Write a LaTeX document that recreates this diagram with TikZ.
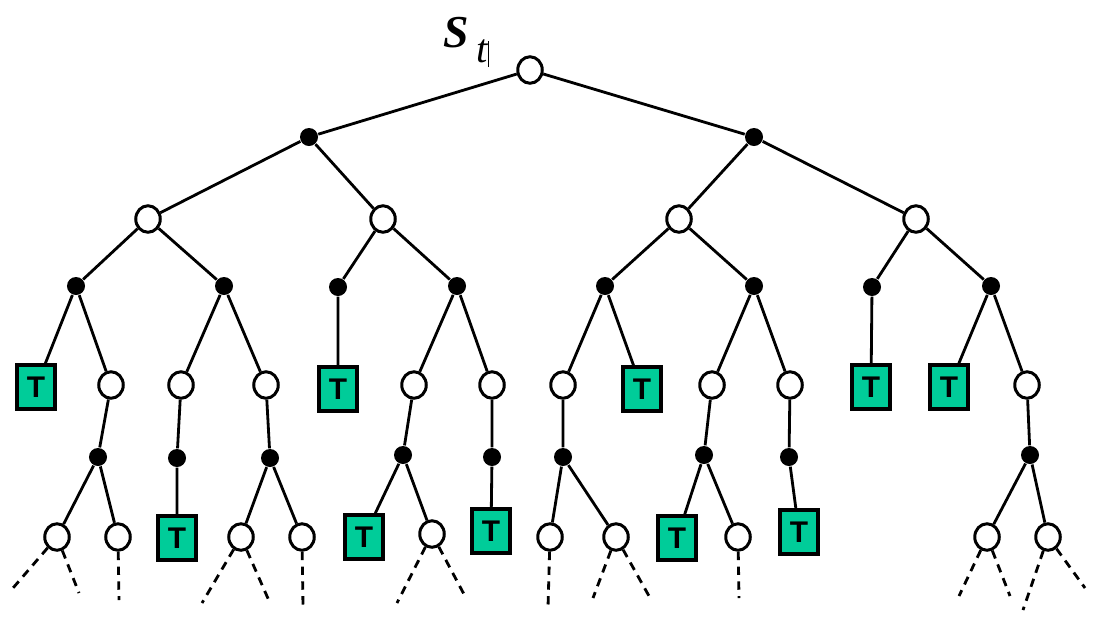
\documentclass[tikz,border=0pt]{standalone}
\usepackage{fontspec}
\setmainfont{Liberation Serif}
\setsansfont{Liberation Sans}
\usetikzlibrary{shapes.geometric}
\definecolor{termgreen}{RGB}{0,204,153}

\begin{document}
\begin{tikzpicture}[
    x=0.01cm, y=-0.01cm,
    edge/.style={line width=0.8pt},
    cont/.style={line width=0.8pt, dash pattern=on 2.4pt off 1.8pt},
    state/.style={draw, ellipse, line width=0.85pt, fill=white, minimum width=0.245cm, minimum height=0.265cm, inner sep=0pt},
    chance/.style={circle, fill=black, minimum size=0.18cm, inner sep=0pt},
    term/.style={draw, rectangle, line width=1pt, fill=termgreen, minimum width=0.38cm, minimum height=0.44cm, inner sep=0pt, font=\sffamily\bfseries\fontsize{8.5}{8.5}\selectfont}
]
    \useasboundingbox (0,0) rectangle (1104,627);

    % Root and label
    \node[state] (s) at (530,70) {};
    \node[anchor=base west, inner sep=0pt] (st) at (443,47) {\fontsize{13}{13}\selectfont\bfseries\itshape S\,\raisebox{-4.3pt}{\mdseries\fontsize{11.5}{11.5}\selectfont t}\rule[-5.7pt]{0.25pt}{7.4pt}};

    % Level 1 and 2
    \node[chance] (a) at (309,137) {};
    \node[chance] (b) at (754,137) {};
    \node[state] (a1) at (148,219) {};
    \node[state] (a2) at (383,219) {};
    \node[state] (b1) at (679,219) {};
    \node[state] (b2) at (916,219) {};

    % Level 3
    \node[chance] (a1x) at (76,286) {};
    \node[chance] (a1y) at (224,286) {};
    \node[chance] (a2x) at (338,287) {};
    \node[chance] (a2y) at (457,286) {};
    \node[chance] (b1x) at (605,286) {};
    \node[chance] (b1y) at (754,286) {};
    \node[chance] (b2x) at (872,287) {};
    \node[chance] (b2y) at (991,286) {};

    % Level 4
    \node[term] (a1xT) at (36,387) {T};
    \node[state] (a1xs) at (111,385) {};
    \node[state] (a1ys1) at (181,385) {};
    \node[state] (a1ys2) at (266,385) {};
    \node[term] (a2xT) at (338,389) {T};
    \node[state] (a2ys1) at (414,385) {};
    \node[state] (a2ys2) at (492,385) {};
    \node[state] (b1xs) at (563,385) {};
    \node[term] (b1xT) at (642,389) {T};
    \node[state] (b1ys1) at (712,385) {};
    \node[state] (b1ys2) at (790,385) {};
    \node[term] (b2xT) at (871,387) {T};
    \node[term] (b2yT) at (949,387) {T};
    \node[state] (b2ys) at (1027,385) {};

    % Level 5
    \node[chance] (d1) at (98,457) {};
    \node[chance] (d2) at (177,458) {};
    \node[chance] (d3) at (270,458) {};
    \node[chance] (d4) at (403,455) {};
    \node[chance] (d5) at (492,457) {};
    \node[chance] (d6) at (563,457) {};
    \node[chance] (d7) at (704,455) {};
    \node[chance] (d8) at (789,457) {};
    \node[chance] (d9) at (1030,455) {};

    % Level 6
    \node[state] (c1) at (57,537) {};
    \node[state] (c2) at (118,537) {};
    \node[term] (t2) at (177,538) {T};
    \node[state] (c3) at (241,537) {};
    \node[state] (c4) at (302,537) {};
    \node[term] (t4) at (364,537) {T};
    \node[state] (c5) at (432,534) {};
    \node[term] (t5) at (491,531) {T};
    \node[state] (c6) at (550,537) {};
    \node[state] (c7) at (616,537) {};
    \node[term] (t7) at (677,538) {T};
    \node[state] (c8) at (738,537) {};
    \node[term] (t8) at (799,532) {T};
    \node[state] (c9) at (987,537) {};
    \node[state] (c10) at (1048,537) {};

    % Free ends of the continuations
    \coordinate (c1l) at (13,588);
    \coordinate (c1r) at (79,593);
    \coordinate (c2e) at (119,600);
    \coordinate (c3l) at (202,603);
    \coordinate (c3r) at (270,603);
    \coordinate (c4e) at (303,607);
    \coordinate (c5l) at (397,603);
    \coordinate (c5r) at (466,598);
    \coordinate (c6e) at (548,607);
    \coordinate (c7l) at (593,598);
    \coordinate (c7r) at (649,596);
    \coordinate (c8e) at (739,598);
    \coordinate (c9l) at (959,596);
    \coordinate (c9r) at (1010,596);
    \coordinate (c10l) at (1023,610);
    \coordinate (c10r) at (1085,588);

    % Edges
    \draw[edge] (s) -- (a) (s) -- (b)
        (a) -- (a1) (a) -- (a2) (b) -- (b1) (b) -- (b2)
        (a1) -- (a1x) (a1) -- (a1y) (a2) -- (a2x) (a2) -- (a2y)
        (b1) -- (b1x) (b1) -- (b1y) (b2) -- (b2x) (b2) -- (b2y);
    \draw[edge] (a1x) -- (a1xT) (a1x) -- (a1xs)
        (a1y) -- (a1ys1) (a1y) -- (a1ys2)
        (a2x) -- (a2xT)
        (a2y) -- (a2ys1) (a2y) -- (a2ys2)
        (b1x) -- (b1xs) (b1x) -- (b1xT)
        (b1y) -- (b1ys1) (b1y) -- (b1ys2)
        (b2x) -- (b2xT)
        (b2y) -- (b2yT) (b2y) -- (b2ys);
    \draw[edge] (a1xs) -- (d1) (a1ys1) -- (d2) (a1ys2) -- (d3)
        (a2ys1) -- (d4) (a2ys2) -- (d5) (b1xs) -- (d6)
        (b1ys1) -- (d7) (b1ys2) -- (d8) (b2ys) -- (d9);
    \draw[edge] (d1) -- (c1) (d1) -- (c2) (d2) -- (t2)
        (d3) -- (c3) (d3) -- (c4) (d4) -- (t4) (d4) -- (c5)
        (d5) -- (t5) (d6) -- (c6) (d6) -- (c7)
        (d7) -- (t7) (d7) -- (c8) (d8) -- (t8)
        (d9) -- (c9) (d9) -- (c10);

    % Continuations
    \draw[cont] (c1) -- (c1l) (c1) -- (c1r) (c2) -- (c2e)
        (c3) -- (c3l) (c3) -- (c3r) (c4) -- (c4e)
        (c5) -- (c5l) (c5) -- (c5r) (c6) -- (c6e)
        (c7) -- (c7l) (c7) -- (c7r) (c8) -- (c8e)
        (c9) -- (c9l) (c9) -- (c9r) (c10) -- (c10l) (c10) -- (c10r);

\end{tikzpicture}
\end{document}
